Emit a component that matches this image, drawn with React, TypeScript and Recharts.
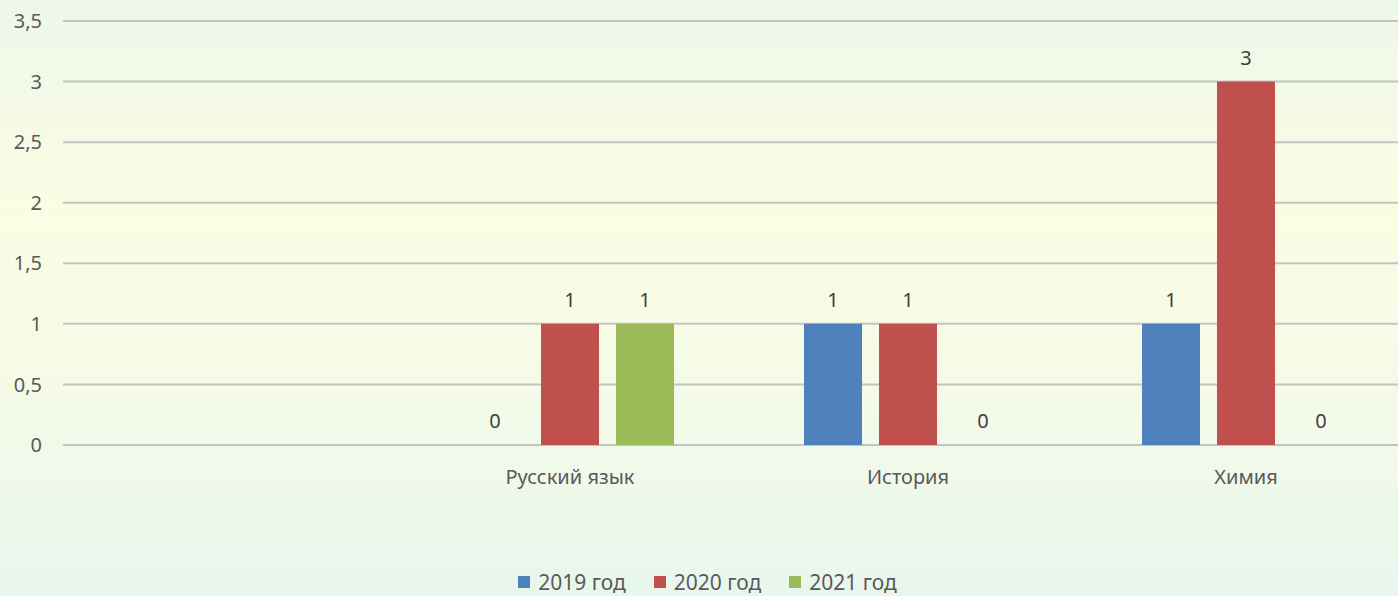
import { BarChart, Bar, XAxis, YAxis, CartesianGrid, Legend, LabelList } from "recharts"

const categories = ["", "Русский язык", "История", "Химия"]
const values2019 = [null, 0, 1, 1]
const values2020 = [null, 1, 1, 3]
const values2021 = [null, 1, 0, 0]
const yTicks = [0, 0.5, 1, 1.5, 2, 2.5, 3, 3.5]

const seriesNames = ["2019 год", "2020 год", "2021 год"]
const seriesColors = ["#4f81bd", "#c0504d", "#9bbb59"]

const data = categories.map((name, i) => ({
  name,
  "2019 год": values2019[i],
  "2020 год": values2020[i],
  "2021 год": values2021[i],
}))

const font = "'Noto Sans', sans-serif"
const textColor = "#595959"

function LegendBox() {
  return (
    <div style={{ display: "flex", justifyContent: "center", alignItems: "center", fontSize: 21, color: textColor, fontFamily: font, lineHeight: "24px" }}>
      {seriesNames.map((n, i) => (
        <div key={n} style={{ display: "flex", alignItems: "center", marginRight: i < 2 ? 28 : 0 }}>
          <span style={{ width: 12, height: 12, background: seriesColors[i], marginRight: 8, display: "inline-block" }} />
          <span>{n}</span>
        </div>
      ))}
    </div>
  )
}

export default function App() {
  return (
    <div
      style={{
        position: "fixed",
        top: 0,
        left: 0,
        width: 1398,
        height: 596,
        overflow: "hidden",
        fontFamily: font,
        background: "linear-gradient(180deg, #edf7ea 0%, #fbfde3 35%, #f6fbe6 60%, #e9f6ed 100%)",
      }}
    >
      <BarChart
        width={1430}
        height={596}
        data={data}
        margin={{ top: 21, right: 15, left: 0, bottom: 0 }}
        barSize={58}
        barGap={17}
      >
        <CartesianGrid vertical={false} stroke="#c3c3c3" strokeWidth={2} />
        <XAxis
          dataKey="name"
          axisLine={false}
          tickLine={false}
          tickSize={0}
          height={125}
          tick={{ fill: textColor, fontSize: 20, fontFamily: font, dy: 23 }}
        />
        <YAxis
          domain={[0, 3.5]}
          ticks={yTicks}
          width={63}
          axisLine={false}
          tickLine={false}
          tickSize={0}
          tickMargin={21}
          tickFormatter={(v) => String(v).replace(".", ",")}
          tick={{ fill: textColor, fontSize: 20, fontFamily: font }}
        />
        <Legend verticalAlign="bottom" height={26} wrapperStyle={{ bottom: 0 }} content={() => <LegendBox />} />
        {seriesNames.map((n, i) => (
          <Bar
            key={n}
            dataKey={n}
            fill={seriesColors[i]}
            minPointSize={0.01}
            isAnimationActive={false}
          >
            <LabelList dataKey={n} position="top" offset={17} fill="#404040" fontSize={20} fontFamily={font} />
          </Bar>
        ))}
      </BarChart>
    </div>
  )
}
